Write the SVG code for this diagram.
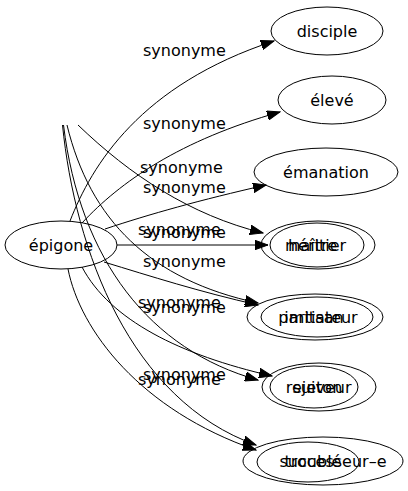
<svg xmlns="http://www.w3.org/2000/svg" width="408" height="491" viewBox="0 0 408 491">
<defs>
<style>
.n ellipse{fill:none;stroke:#000;stroke-width:1}
.n text,.l text{font-family:"DejaVu Sans",sans-serif;font-size:16px;fill:#000}
.n text{text-anchor:middle}
.e path{fill:none;stroke:#000;stroke-width:1;marker-end:url(#ah)}
</style>
<marker id="ah" markerUnits="userSpaceOnUse" markerWidth="14" markerHeight="10" refX="13" refY="5" orient="auto" viewBox="0 0 14 10">
<path d="M0,0.3 L13,5 L0,9.7 z" fill="#000" stroke="#000" stroke-width="1"/>
</marker>
</defs>
<rect width="408" height="491" fill="#fff"/>
<g id="edges" class="e">
<path d="M70,221 C92,165 140,85 274,41"/>
<path d="M82,223 C120,182 180,140 280,112"/>
<path d="M105,229 C150,214 200,200 266,185"/>
<path d="M117,245 L268,245"/>
<path d="M104,262 C150,276 200,292 258,305"/>
<path d="M82,267 C110,320 180,355 272,376"/>
<path d="M68,269 C80,330 140,410 256,450"/>
<path d="M78,125 C130,175 190,215 263,233"/>
<path d="M67,125 C90,220 150,280 258,303"/>
<path d="M63.5,125 C80,260 150,350 258,380"/>
<path d="M62.5,125 C75,250 130,400 256,445"/>
</g>
<g id="labels" class="l">
<text x="143" y="56">synonyme</text>
<text x="143" y="129">synonyme</text>
<text x="140" y="173">synonyme</text>
<text x="143" y="193">synonyme</text>
<text x="138" y="235">synonyme</text>
<text x="143" y="238">synonyme</text>
<text x="143" y="267">synonyme</text>
<text x="138" y="308">synonyme</text>
<text x="143" y="313">synonyme</text>
<text x="143" y="380">synonyme</text>
<text x="138" y="385">synonyme</text>
</g>
<g id="n-epigone" class="n"><ellipse cx="61" cy="245" rx="56" ry="24"/><text x="61" y="251">épigone</text></g>
<g id="n-disciple" class="n"><ellipse cx="327" cy="31" rx="56" ry="24"/><text x="327" y="37">disciple</text></g>
<g id="n-eleve" class="n"><ellipse cx="332" cy="100" rx="54" ry="24"/><text x="332" y="106">élevé</text></g>
<g id="n-emanation" class="n"><ellipse cx="326" cy="172" rx="72" ry="24"/><text x="326" y="178">émanation</text></g>
<g id="n-heritier" class="n"><ellipse cx="318" cy="245" rx="57" ry="24"/><text x="317" y="251">héritier</text></g>
<g id="n-maitre" class="n"><ellipse cx="317" cy="245" rx="47" ry="22"/><text x="311" y="251">maître</text></g>
<g id="n-imitateur" class="n"><ellipse cx="315" cy="317" rx="68" ry="23"/><text x="321" y="323">imitateur</text></g>
<g id="n-partisan" class="n"><ellipse cx="317" cy="317" rx="56" ry="20"/><text x="311" y="323">partisan</text></g>
<g id="n-suiveur" class="n"><ellipse cx="319" cy="387" rx="57" ry="24"/><text x="322" y="393">suiveur</text></g>
<g id="n-rejeton" class="n"><ellipse cx="314" cy="387" rx="44" ry="21"/><text x="314" y="393">rejeton</text></g>
<g id="n-successeur" class="n"><ellipse cx="323" cy="461" rx="80" ry="24"/><text x="333" y="467">successeur–e</text></g>
<g id="n-trouble" class="n"><ellipse cx="308" cy="462" rx="51" ry="20"/><text x="313" y="467">troublé</text></g>
</svg>
